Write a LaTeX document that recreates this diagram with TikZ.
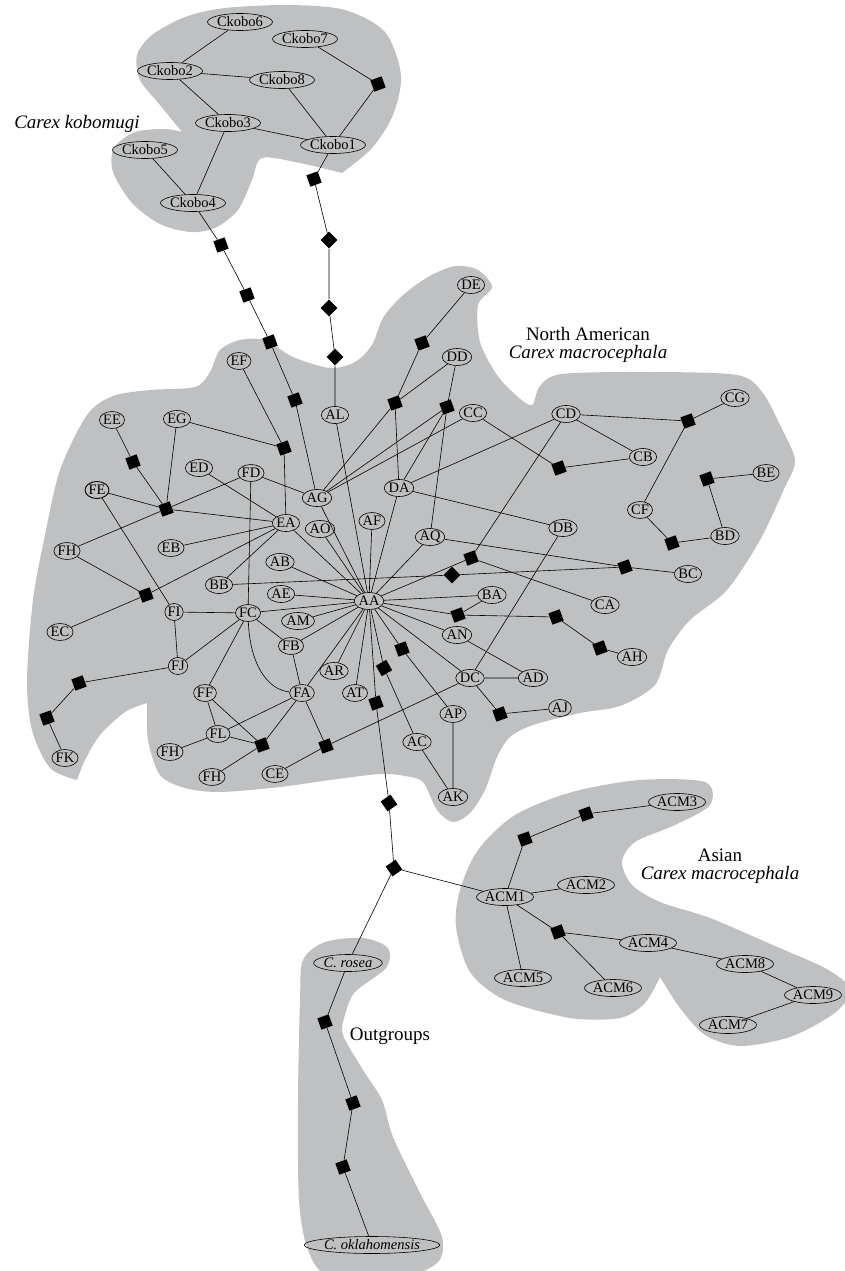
\documentclass[tikz,border=0pt]{standalone}
\usepackage{fontspec}
\setmainfont{Liberation Serif}
\usetikzlibrary{shapes.geometric}
\definecolor{blobGray}{RGB}{191,192,194}
\tikzset{
  taxon/.style={draw, ellipse, inner sep=0pt, minimum height=17pt, line width=0.6pt,
    font=\fontsize{14.5}{16}\selectfont},
  mut/.style={fill=black, rectangle, minimum size=12pt, inner sep=0pt, rotate=#1},
  mut/.default=20,
  link/.style={line width=0.6pt},
  blob/.style={fill=blobGray},
  grouplabel/.style={font=\fontsize{19}{18}\selectfont, align=center, inner sep=0pt}
}
\begin{document}
\begin{tikzpicture}[x=1pt, y=-1pt]
  \useasboundingbox (0,0) rectangle (845,1271);
  % grey regions
  \fill[blob] plot[smooth] coordinates {(182,132) (160,105) (140,80) (137,55) (152,35) (185,17) (225,8) (290,5) (345,10) (385,32) (401,75) (393,115) (372,148) (342,173)}
    -- plot[smooth] coordinates {(342,173) (300,163) (262,158) (252,180) (238,210) (215,228) (190,232) (160,224) (132,203) (113,172) (114,148) (135,132) (165,129) (182,132)} -- cycle;
  \fill[blob] plot[smooth] coordinates {(77,780) (50,768) (32,730) (27,680) (33,600) (45,535) (60,470) (87,415) (113,396) (150,390) (195,387) (210,372) (220,350) (240,340) (265,340) (293,357) (330,368) (355,362) (372,345) (383,318) (402,296) (428,277) (455,266) (478,270) (492,287) (478,305) (480,342) (497,375) (518,397) (532,405) (540,386) (562,374) (650,372) (737,375) (762,392) (780,425) (795,460) (785,487) (760,540) (727,590) (690,620) (668,650) (655,685) (620,706) (580,713) (533,725) (510,737) (497,757) (485,790) (470,813) (453,822) (437,810) (423,782) (405,776) (380,774) (330,780) (280,787) (220,792) (185,788) (160,775) (148,740) (147,703)}
    -- plot[smooth] coordinates {(147,703) (125,712) (100,735) (85,760) (77,780)} -- cycle;
  \fill[blob] plot[smooth] coordinates {(660,977) (680,1008) (705,1035) (740,1046) (790,1037) (832,1015) (850,995) (845,982) (823,967) (775,946) (710,918) (660,902) (632,885) (622,862) (635,842) (675,825) (710,805) (705,782) (640,780) (572,792) (515,815) (478,850) (460,890) (456,927) (470,972) (505,1000) (570,1018) (620,1018) (645,1003) (660,977)} -- cycle;
  \fill[blob] plot[smooth cycle] coordinates {(303,960) (325,942) (363,938) (388,948) (386,968) (355,992) (345,1015) (343,1035) (363,1070) (382,1100) (393,1137) (420,1193) (442,1237) (438,1262) (405,1276) (330,1276) (308,1250) (299,1200) (298,1100) (300,1000)};
  % group labels
  \node[grouplabel, font=\fontsize{19}{18}\selectfont\itshape] (kobolab) at (77,124) {Carex kobomugi};
  \node[grouplabel] (nalab) at (588,345) {North American\\\textit{Carex macrocephala}};
  \node[grouplabel] (asialab) at (720,866) {Asian\\\textit{Carex macrocephala}};
  \node[grouplabel] (outlab) at (390,1036) {Outgroups};
  % Carex kobomugi
  \node[taxon] (Ckobo6) at (240,22) {Ckobo6};
  \node[taxon] (Ckobo7) at (305,39) {Ckobo7};
  \node[taxon] (Ckobo2) at (170,71) {Ckobo2};
  \node[taxon] (Ckobo8) at (282,80) {Ckobo8};
  \node[taxon] (Ckobo3) at (228,123) {Ckobo3};
  \node[taxon] (Ckobo1) at (333,145) {Ckobo1};
  \node[taxon] (Ckobo5) at (145,150) {Ckobo5};
  \node[taxon] (Ckobo4) at (193,203) {Ckobo4};
  % North American haplotypes
  \node[taxon] (EF) at (239,361) {EF};
  \node[taxon] (EE) at (112,420) {EE};
  \node[taxon] (EG) at (177,419) {EG};
  \node[taxon] (ED) at (199,468) {ED};
  \node[taxon] (FD) at (251,473) {FD};
  \node[taxon, line width=0.9pt] (FE) at (97,490) {FE};
  \node[taxon] (EA) at (286,523) {EA};
  \node[taxon] (FHa) at (67,551) {FH};
  \node[taxon] (EB) at (171,548) {EB};
  \node[taxon] (AB) at (280,562) {AB};
  \node[taxon] (BB) at (219,585) {BB};
  \node[taxon] (AE) at (281,594) {AE};
  \node[taxon] (FI) at (174,612) {FI};
  \node[taxon] (FC) at (248,613) {FC};
  \node[taxon] (EC) at (60,632) {EC};
  \node[taxon] (AM) at (298,621) {AM};
  \node[taxon] (FB) at (291,646) {FB};
  \node[taxon] (FJ) at (178,666) {FJ};
  \node[taxon] (FF) at (205,693) {FF};
  \node[taxon] (FA) at (302,693) {FA};
  \node[taxon] (FL) at (218,734) {FL};
  \node[taxon] (FHb) at (170,752) {FH};
  \node[taxon] (FHc) at (212,777) {FH};
  \node[taxon] (CE) at (275,774) {CE};
  \node[taxon] (FK) at (65,758) {FK};
  \node[taxon] (AL) at (335,415) {AL};
  \node[taxon] (AG) at (317,498) {AG};
  \node[taxon] (AO) at (320,529) {AO};
  \node[taxon] (AF) at (372,521) {AF};
  \node[taxon] (DA) at (399,488) {DA};
  \node[taxon] (AQ) at (430,537) {AQ};
  \node[taxon] (AA) at (369,601) {AA};
  \node[taxon] (DE) at (471,285) {DE};
  \node[taxon] (DD) at (457,357) {DD};
  \node[taxon] (CC) at (473,413) {CC};
  \node[taxon] (CD) at (566,414) {CD};
  \node[taxon] (CG) at (735,398) {CG};
  \node[taxon] (CB) at (643,457) {CB};
  \node[taxon] (BE) at (766,473) {BE};
  \node[taxon] (CF) at (640,510) {CF};
  \node[taxon] (DB) at (563,528) {DB};
  \node[taxon] (BD) at (725,536) {BD};
  \node[taxon] (BC) at (688,574) {BC};
  \node[taxon] (CA) at (605,605) {CA};
  \node[taxon] (BA) at (492,595) {BA};
  \node[taxon] (AN) at (457,635) {AN};
  \node[taxon] (AH) at (632,657) {AH};
  \node[taxon] (AR) at (334,671) {AR};
  \node[taxon] (AD) at (533,678) {AD};
  \node[taxon] (DC) at (470,678) {DC};
  \node[taxon] (AT) at (355,693) {AT};
  \node[taxon] (AJ) at (560,708) {AJ};
  \node[taxon] (AP) at (453,714) {AP};
  \node[taxon] (AC) at (417,742) {AC};
  \node[taxon] (AK) at (453,797) {AK};
  % Asian haplotypes
  \node[taxon] (ACM3) at (677,802) {ACM3};
  \node[taxon] (ACM2) at (586,885) {ACM2};
  \node[taxon] (ACM1) at (505,897) {ACM1};
  \node[taxon] (ACM4) at (648,943) {ACM4};
  \node[taxon] (ACM8) at (745,964) {ACM8};
  \node[taxon] (ACM5) at (523,978) {ACM5};
  \node[taxon] (ACM6) at (613,988) {ACM6};
  \node[taxon] (ACM9) at (813,995) {ACM9};
  \node[taxon] (ACM7) at (728,1025) {ACM7};
  % outgroups
  \node[taxon] (rosea) at (348,963) {\textit{C. rosea}};
  \node[taxon] (okla) at (372,1245) {\textit{C. oklahomensis}};
  % missing haplotypes
  \node[mut] (m1) at (378,84) {};
  \node[mut] (m2) at (314,179) {};
  \node[mut=45] (m3) at (329,240) {};
  \node[mut=45] (m4) at (329,308) {};
  \node[mut=45] (m5) at (335,357) {};
  \node[mut] (m6) at (221,245) {};
  \node[mut] (m7) at (247,295) {};
  \node[mut] (m8) at (270,342) {};
  \node[mut] (m9) at (295,400) {};
  \node[mut] (m10) at (284,448) {};
  \node[mut] (m11) at (133,462) {};
  \node[mut] (m12) at (166,509) {};
  \node[mut] (m13) at (422,343) {};
  \node[mut] (m14) at (395,403) {};
  \node[mut] (m15) at (447,407) {};
  \node[mut] (m16) at (559,468) {};
  \node[mut] (m17) at (688,421) {};
  \node[mut] (m18) at (707,479) {};
  \node[mut] (m19) at (672,543) {};
  \node[mut] (m20) at (625,567) {};
  \node[mut] (m21) at (471,558) {};
  \node[mut=45] (m22) at (452,575) {};
  \node[mut] (m23) at (458,615) {};
  \node[mut] (m24) at (556,617) {};
  \node[mut] (m25) at (600,648) {};
  \node[mut] (m26) at (402,649) {};
  \node[mut=30] (m27) at (384,668) {};
  \node[mut] (m28) at (376,703) {};
  \node[mut=35] (m29) at (389,803) {};
  \node[mut=35] (m30) at (394,868) {};
  \node[mut] (m31) at (500,714) {};
  \node[mut] (m32) at (326,746) {};
  \node[mut] (m33) at (262,745) {};
  \node[mut] (m34) at (146,595) {};
  \node[mut] (m35) at (79,683) {};
  \node[mut] (m36) at (47,718) {};
  \node[mut] (m37) at (525,839) {};
  \node[mut] (m38) at (586,814) {};
  \node[mut] (m39) at (558,932) {};
  \node[mut] (m40) at (325,1022) {};
  \node[mut] (m41) at (353,1103) {};
  \node[mut] (m42) at (343,1167) {};
  % connections
  \draw[link] (Ckobo6) -- (Ckobo2) -- (Ckobo8) -- (Ckobo1);
  \draw[link] (Ckobo2) -- (Ckobo3) -- (Ckobo1);
  \draw[link] (Ckobo3) -- (Ckobo4) -- (Ckobo5);
  \draw[link] (Ckobo7) -- (m1) -- (Ckobo1);
  \draw[link] (Ckobo1) -- (m2) -- (m3) -- (m4) -- (m5) -- (AL);
  \draw[link] (Ckobo4) -- (m6) -- (m7) -- (m8) -- (m9) -- (AG);
  \draw[link] (EF) -- (m10) -- (EA);
  \draw[link] (EG) -- (m10);
  \draw[link] (EE) -- (m11) -- (m12);
  \draw[link] (EG) -- (m12);
  \draw[link] (FE) -- (m12);
  \draw[link] (FD) -- (m12) -- (FHa);
  \draw[link] (m12) -- (EA);
  \draw[link] (ED) -- (EA);
  \draw[link] (FD) -- (AG);
  \draw[link] (FD) -- (FC);
  \draw[link] (EB) -- (EA);
  \draw[link] (BB) -- (EA) -- (AA);
  \draw[link] (EA) -- (m34);
  \draw[link] (FHa) -- (m34) -- (EC);
  \draw[link] (DE) -- (m13) -- (m14);
  \draw[link] (DD) -- (m14) -- (DA);
  \draw[link] (DD) -- (m15) -- (DA);
  \draw[link] (m15) -- (AQ);
  \draw[link] (AG) -- (m14);
  \draw[link] (AG) -- (m15);
  \draw[link] (AG) -- (CC) -- (m16) -- (CB);
  \draw[link] (DA) -- (CD) -- (CB);
  \draw[link] (DA) -- (DB) -- (DC);
  \draw[link] (CD) -- (m17) -- (CG);
  \draw[link] (m17) -- (CF) -- (m19) -- (BD) -- (m18) -- (BE);
  \draw[link] (CD) -- (m21) -- (CA);
  \draw[link] (AQ) -- (m20) -- (BC);
  \draw[link] (BB) -- (m22) -- (m20);
  \draw[link] (AA) -- (m21);
  \foreach \hap in {AL, AG, AO, AF, DA, AQ, AB, AE, FC, AM, FB, FA, AR, AT, BA, AN, DC}
    \draw[link] (\hap) -- (AA);
  \draw[link] (AA) -- (m23) -- (BA);
  \draw[link] (m23) -- (m24) -- (m25) -- (AH);
  \draw[link] (AN) -- (AD) -- (DC);
  \draw[link] (DC) -- (m31) -- (AJ);
  \draw[link] (DC) -- (m32) -- (CE);
  \draw[link] (FA) -- (m32);
  \draw[link] (AA) -- (m26) -- (AP) -- (AK);
  \draw[link] (AA) -- (m27) -- (AC) -- (AK);
  \draw[link] (AA) -- (m28) -- (m29) -- (m30) -- (ACM1);
  \draw[link] (m30) -- (rosea) -- (m40) -- (m41) -- (m42) -- (okla);
  \draw[link] (FE) -- (FI) -- (FC);
  \draw[link] (FI) -- (FJ) -- (FC);
  \draw[link] (FJ) -- (m35) -- (m36) -- (FK);
  \draw[link] (FC) -- (FF);
  \draw[link] (FC) -- (FB) -- (FA);
  \draw[link] (FC) .. controls (250,665) and (268,690) .. (FA);
  \draw[link] (FF) -- (FL) -- (FA);
  \draw[link] (FF) -- (m33);
  \draw[link] (FL) -- (m33);
  \draw[link] (FL) -- (FHb);
  \draw[link] (FA) -- (m33) -- (FHc);
  \draw[link] (ACM1) -- (m37) -- (m38) -- (ACM3);
  \draw[link] (ACM1) -- (ACM2);
  \draw[link] (ACM1) -- (ACM5);
  \draw[link] (ACM1) -- (m39) -- (ACM4) -- (ACM8) -- (ACM9) -- (ACM7);
  \draw[link] (m39) -- (ACM6);
\end{tikzpicture}
\end{document}
